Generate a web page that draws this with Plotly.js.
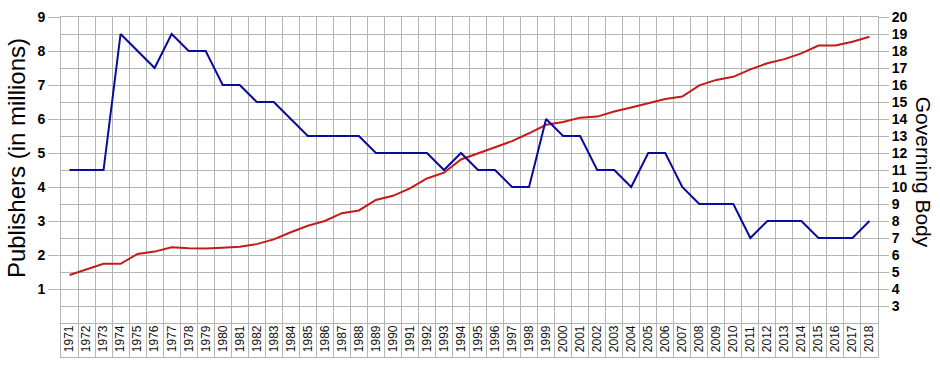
<!DOCTYPE html>
<html>
<head>
<meta charset="utf-8">
<script src="https://cdn.plot.ly/plotly-3.0.1.min.js"></script>
<style>html,body{margin:0;padding:0;background:#fff;}#chart{width:940px;height:370px;}</style>
</head>
<body>
<div id="chart"></div>
<script>
const years = [1971,1972,1973,1974,1975,1976,1977,1978,1979,1980,1981,1982,1983,1984,1985,1986,1987,1988,1989,1990,1991,1992,1993,1994,1995,1996,1997,1998,1999,2000,2001,2002,2003,2004,2005,2006,2007,2008,2009,2010,2011,2012,2013,2014,2015,2016,2017,2018];
const yearLabels = years.map(String);
const publishers = [1.41,1.58,1.74,1.74,2.03,2.10,2.23,2.20,2.19,2.21,2.24,2.32,2.46,2.67,2.86,3.00,3.23,3.31,3.62,3.74,3.96,4.25,4.42,4.81,4.99,5.19,5.35,5.58,5.83,5.91,6.04,6.07,6.22,6.34,6.47,6.59,6.66,6.99,7.15,7.24,7.46,7.64,7.76,7.93,8.16,8.16,8.27,8.42];
const governingBody = [11,11,11,19,18,17,19,18,18,16,16,15,15,14,13,13,13,13,12,12,12,12,11,12,11,11,10,10,14,13,13,11,11,10,12,12,10,9,9,9,7,8,8,8,7,7,7,8];
const leftTicks = [1,2,3,4,5,6,7,8,9];
const rightTicks = [3,4,5,6,7,8,9,10,11,12,13,14,15,16,17,18,19,20];

const grid = '#b4b4b4';
const tickFont = {family: 'Liberation Sans Narrow, Arial Narrow, Liberation Sans, sans-serif', size: 14, color: '#000', weight: 'bold'};

const traces = [
  {x: years, y: publishers, type: 'scatter', mode: 'lines', yaxis: 'y', line: {color: '#c41a1a', width: 2}, hoverinfo: 'skip'},
  {x: years, y: governingBody, type: 'scatter', mode: 'lines', yaxis: 'y2', line: {color: '#0a0a9c', width: 2}, hoverinfo: 'skip'}
];

const layout = {
  width: 940, height: 370,
  margin: {l: 61, r: 62, t: 17, b: 13, pad: 0},
  paper_bgcolor: '#fff', plot_bgcolor: '#fff',
  showlegend: false,
  font: {family: 'Liberation Sans, Arial, sans-serif', color: '#000'},
  xaxis: {
    type: 'linear', range: [1970.5, 2018.5], fixedrange: true,
    tickmode: 'array', tickvals: years, ticktext: yearLabels,
    tickangle: -90, ticklabelposition: 'inside', ticks: '',
    tickfont: {family: 'Liberation Sans, Arial, sans-serif', size: 12, color: '#111'},
    showgrid: false, zeroline: false,
    showline: true, mirror: true, linecolor: grid, linewidth: 1,
    minor: {tickmode: 'linear', tick0: 1970.5, dtick: 1, showgrid: true, gridcolor: grid, gridwidth: 1, ticks: ''}
  },
  yaxis: {
    range: [-1, 9], fixedrange: true,
    tickmode: 'array', tickvals: leftTicks, ticktext: leftTicks.map(String),
    ticks: 'outside', ticklen: 12, tickcolor: grid, tickwidth: 1,
    tickfont: tickFont,
    showgrid: false, zeroline: false,
    showline: true, linecolor: grid, linewidth: 1
  },
  yaxis2: {
    overlaying: 'y', side: 'right', range: [0, 20], fixedrange: true,
    tickmode: 'array', tickvals: rightTicks, ticktext: rightTicks.map(String),
    ticks: 'outside', ticklen: 10, tickcolor: grid, tickwidth: 1,
    tickfont: tickFont,
    showgrid: false, zeroline: false,
    showline: true, linecolor: grid, linewidth: 1,
    minor: {tickmode: 'linear', tick0: 0, dtick: 1, showgrid: true, gridcolor: grid, gridwidth: 1, ticks: ''}
  },
  annotations: [
    {text: 'Publishers (in millions)', xref: 'paper', yref: 'paper', x: -0.0551, y: 0.585, xanchor: 'center', yanchor: 'middle', textangle: -90, showarrow: false, font: {family: 'Liberation Sans, Arial, sans-serif', size: 24, color: '#000'}},
    {text: 'Governing Body', xref: 'paper', yref: 'paper', x: 1.0551, y: 0.545, xanchor: 'center', yanchor: 'middle', textangle: 90, showarrow: false, font: {family: 'Liberation Sans, Arial, sans-serif', size: 21, color: '#000'}}
  ]
};

Plotly.newPlot('chart', traces, layout, {displayModeBar: false, staticPlot: true});
</script>
</body>
</html>
